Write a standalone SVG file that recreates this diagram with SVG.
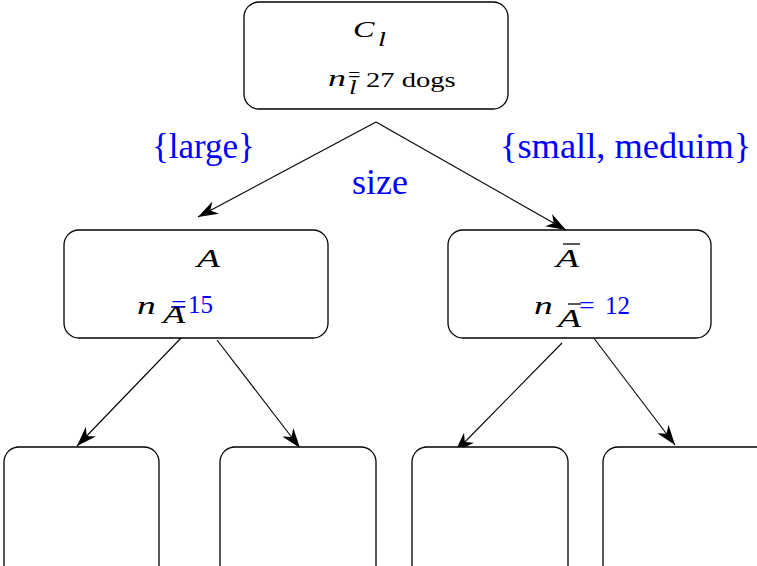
<svg xmlns="http://www.w3.org/2000/svg" width="757" height="566" viewBox="0 0 757 566">
  <style>
    .box { fill: #ffffff; stroke: #000000; stroke-width: 1.3; }
    .edge { fill: none; stroke: #000000; stroke-width: 1.1; marker-end: url(#barb); }
    .math { font-family: Liberation Serif, serif; font-style: italic; fill: #000000; }
    .rm { font-family: Liberation Serif, serif; fill: #000000; }
    .lbl { font-family: Liberation Serif, serif; fill: #0000ff; }
    .bar { stroke: #000000; stroke-width: 1.3; }
  </style>
  <defs>
    <marker id="barb" markerUnits="userSpaceOnUse" markerWidth="24" markerHeight="16" refX="20" refY="7" orient="auto" overflow="visible">
      <path d="M20,7 L0,0 L6,7 L0,14 Z" fill="#000000"/>
    </marker>
  </defs>

  <rect width="757" height="566" fill="#ffffff"/>

  <!-- connectors -->
  <g id="edges">
    <path class="edge" d="M376,122 L198,217"/>
    <path class="edge" d="M376,122 L566,230"/>
    <path class="edge" d="M182,337 L77,446"/>
    <path class="edge" d="M217,340 L300,448"/>
    <path class="edge" d="M562,343 L455,452"/>
    <path class="edge" d="M593,337 L675,445"/>
  </g>

  <!-- root: all dogs -->
  <g id="root">
    <rect class="box" x="244" y="2" width="264" height="107" rx="15" ry="15"/>
    <text class="math" transform="translate(353,37) scale(1.4,1)" font-size="23">C</text>
    <text class="math" transform="translate(378,46) scale(1.3,1)" font-size="22">l</text>
    <text class="math" transform="translate(328,86) scale(1.5,1)" font-size="24">n</text>
    <text class="math" transform="translate(349,94) scale(1.3,1)" font-size="21">l</text>
    <text class="rm" transform="translate(348,82) scale(1.1,1)" font-size="20">=</text>
    <text class="rm" transform="translate(366,87) scale(1.3,1)" font-size="22">27 dogs</text>
  </g>

  <!-- split labels -->
  <g id="labels">
    <text class="lbl" x="152" y="158" font-size="35">{large}</text>
    <text class="lbl" transform="translate(500,158) scale(1.04,1)" font-size="35">{small, meduim}</text>
    <text class="lbl" x="352" y="194" font-size="36">size</text>
  </g>

  <!-- left child -->
  <g id="nodeA">
    <rect class="box" x="64" y="230" width="264" height="108" rx="15" ry="15"/>
    <text class="math" transform="translate(197,267) scale(1.45,1)" font-size="26">A</text>
    <text class="math" transform="translate(137,314) scale(1.5,1)" font-size="25">n</text>
    <text class="math" transform="translate(163,323) scale(1.4,1)" font-size="26">A</text>
    <line class="bar" x1="171" y1="307" x2="185" y2="307"/>
    <text class="lbl" transform="translate(171,313) scale(1.1,1)" font-size="25">=</text>
    <text class="lbl" x="188" y="313" font-size="25">15</text>
  </g>

  <!-- right child -->
  <g id="nodeNotA">
    <rect class="box" x="448" y="230" width="263" height="108" rx="15" ry="15"/>
    <line class="bar" x1="563" y1="244" x2="580" y2="244"/>
    <text class="math" transform="translate(556,267) scale(1.45,1)" font-size="26">A</text>
    <text class="math" transform="translate(534,314) scale(1.5,1)" font-size="25">n</text>
    <line class="bar" x1="568" y1="304" x2="581" y2="304"/>
    <text class="math" transform="translate(558,327) scale(1.45,1)" font-size="26">A</text>
    <text class="lbl" transform="translate(579,314) scale(1.1,1)" font-size="25">=</text>
    <text class="lbl" x="605" y="314" font-size="25">12</text>
  </g>

  <!-- leaves -->
  <g id="leaf1"><rect class="box" x="4" y="447" width="155" height="140" rx="15" ry="15"/></g>
  <g id="leaf2"><rect class="box" x="220" y="447" width="156" height="140" rx="15" ry="15"/></g>
  <g id="leaf3"><rect class="box" x="412" y="447" width="156" height="140" rx="15" ry="15"/></g>
  <g id="leaf4"><rect class="box" x="603" y="447" width="170" height="140" rx="15" ry="15"/></g>
</svg>
